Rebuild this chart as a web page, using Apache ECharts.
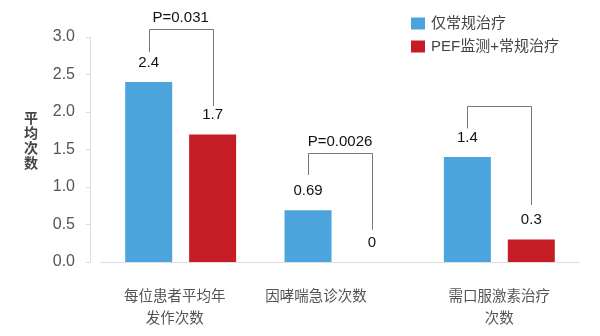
<!DOCTYPE html>
<html>
<head>
<meta charset="utf-8">
<script src="https://cdn.jsdelivr.net/npm/echarts@6/dist/echarts.min.js"></script>
<style>html,body{margin:0;padding:0;background:#fff}#c{width:600px;height:336px}</style>
</head>
<body>
<div id="c"></div>
<script>
const categories = ["每位患者平均年\n发作次数", "因哮喘急诊次数", "需口服激素治疗\n次数"];
const seriesNames = ["仅常规治疗", "PEF监测+常规治疗"];
const yAxisName = "平\n均\n次\n数";
const conventional = [2.4, 0.69, 1.4];
const pefPlus = [1.7, 0, 0.3];
const conventionalLabels = ["2.4", "0.69", "1.4"];
const pefLabels = ["1.7", "0", "0.3"];
const yTicks = [0, 0.5, 1.0, 1.5, 2.0, 2.5, 3.0];
// significance brackets: top height, left leg end, right leg end (value units)
const bracketTop = [3.11, 1.46, 2.08];
const bracketLeftEnd = [2.80, 1.16, 1.78];
const bracketRightEnd = [2.08, 0.43, 0.76];
const pTexts = ["P=0.031", "P=0.0026", ""];

const FONT = "'Liberation Sans', 'Noto Sans CJK SC', sans-serif";
const chart = echarts.init(document.getElementById('c'), null, {renderer: 'canvas'});
const labelPads = [[0, 12, 0, 0], [0, 48, 0, 0], [0, 0, 0, 0]];
const BAR_W = 47, BAR_GAP = '36%', OFF = 32;

chart.setOption({
  animation: false,
  backgroundColor: '#fff',
  textStyle: {fontFamily: FONT},
  title: {
    text: yAxisName, left: 24, top: 112, padding: 0,
    textStyle: {fontSize: 14, color: '#444', lineHeight: 15, fontWeight: 'bold', fontFamily: FONT}
  },
  legend: {
    orient: 'vertical', left: 406, top: 11,
    data: seriesNames,
    itemWidth: 14, itemHeight: 12, itemGap: 8,
    icon: 'rect',
    textStyle: {fontSize: 15, color: '#444', fontFamily: FONT, padding: [0, 0, 0, 1]}
  },
  grid: {left: 101, right: 21, top: 37, bottom: 74},
  xAxis: {
    type: 'category',
    data: categories.map((c, i) => ({value: c, textStyle: {padding: labelPads[i]}})),
    axisLine: {lineStyle: {color: '#ddd'}},
    axisTick: {show: false},
    axisLabel: {fontSize: 14.5, color: '#555', margin: 24, lineHeight: 22, fontFamily: FONT, interval: 0}
  },
  yAxis: {
    type: 'value', min: 0, max: 3, interval: 0.5, offset: 11,
    axisLine: {show: true, lineStyle: {color: '#ddd'}},
    axisTick: {show: true, length: 4, lineStyle: {color: '#ddd'}},
    splitLine: {show: false},
    axisLabel: {fontSize: 16, color: '#555', margin: 15, fontFamily: FONT,
      formatter: v => { const t = yTicks.find(x => Math.abs(x - v) < 1e-9); return (t !== undefined ? t : v).toFixed(1); }}
  },
  series: [
    {
      name: seriesNames[0], type: 'bar', data: conventional,
      barWidth: BAR_W, barGap: BAR_GAP,
      itemStyle: {color: '#4BA4DC'},
      label: {show: true, position: 'top', distance: 12, fontSize: 15, color: '#111', fontFamily: FONT,
        formatter: p => conventionalLabels[p.dataIndex]}
    },
    {
      name: seriesNames[1], type: 'bar', data: pefPlus,
      barWidth: BAR_W, barGap: BAR_GAP,
      itemStyle: {color: '#C41D25'},
      label: {show: true, position: 'top', distance: 12, fontSize: 15, color: '#111', fontFamily: FONT,
        formatter: p => pefLabels[p.dataIndex]}
    },
    {
      type: 'custom', name: 'brackets', silent: true, clip: false, z: 5,
      encode: {x: 0, y: 1},
      data: categories.map((c, i) => [i, bracketTop[i], bracketLeftEnd[i], bracketRightEnd[i]]),
      renderItem: function (params, api) {
        const i = params.dataIndex;
        const cat = api.value(0);
        const t = api.coord([cat, api.value(1)]);
        const l = api.coord([cat, api.value(2)]);
        const r = api.coord([cat, api.value(3)]);
        const xl = Math.round(t[0] - OFF) + 0.5, xr = Math.round(t[0] + OFF) + 0.5, yt = Math.round(t[1]) + 0.5;
        const children = [{
          type: 'polyline',
          shape: {points: [[xl, l[1]], [xl, yt], [xr, yt], [xr, r[1]]]},
          style: {stroke: '#777', fill: null, lineWidth: 1}
        }];
        if (pTexts[i]) {
          children.push({
            type: 'text',
            style: {text: pTexts[i], x: t[0], y: yt - 4, align: 'center', verticalAlign: 'bottom',
              fontSize: 15, fill: '#111', fontFamily: FONT}
          });
        }
        return {type: 'group', children: children};
      }
    }
  ]
});
</script>
</body>
</html>
